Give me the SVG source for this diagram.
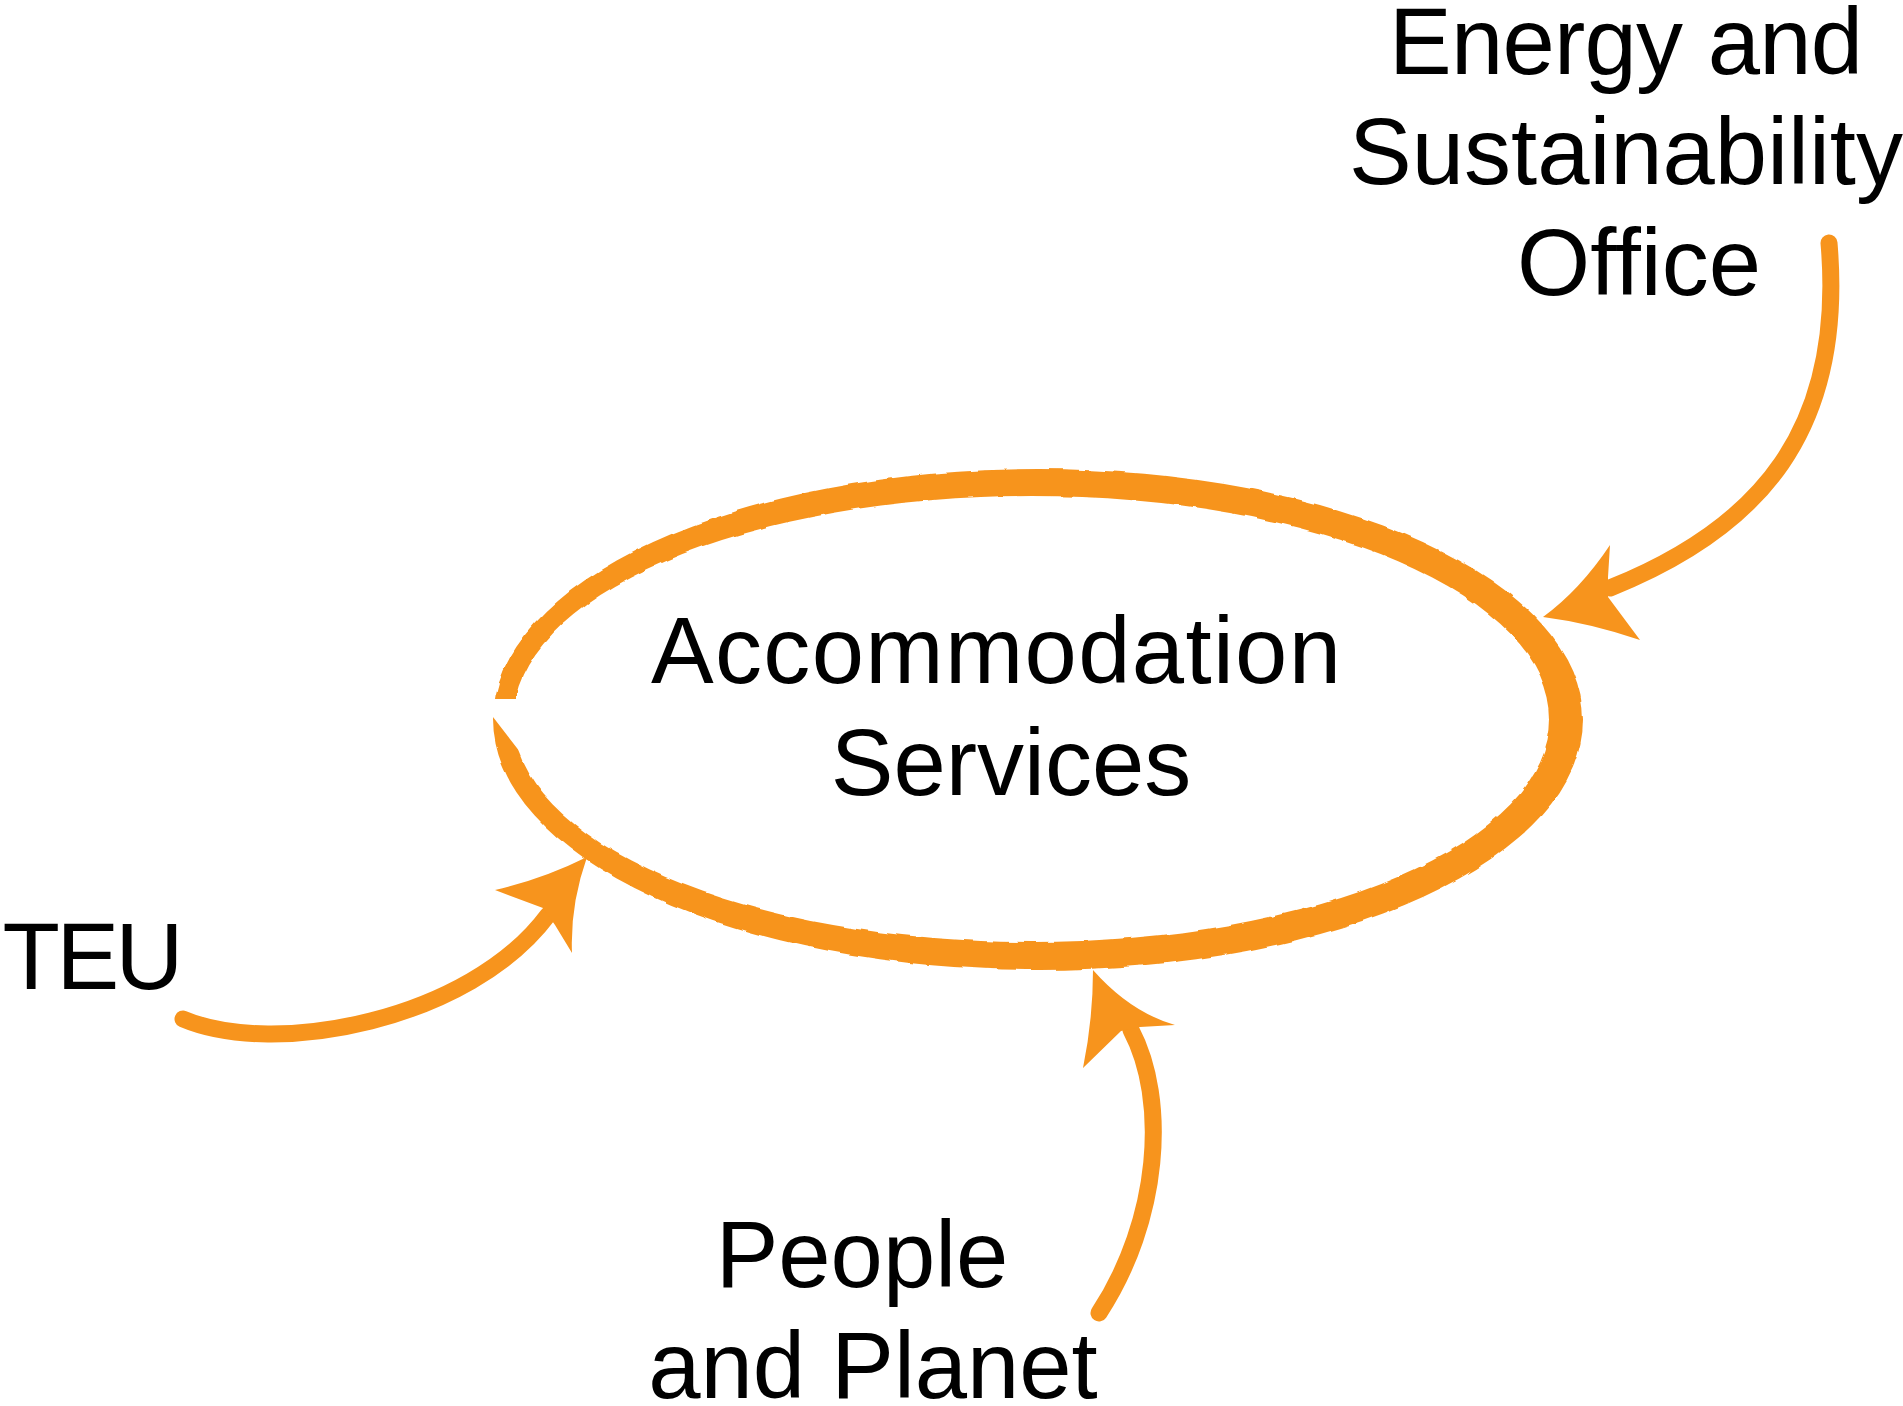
<svg xmlns="http://www.w3.org/2000/svg" width="1903" height="1406" viewBox="0 0 1903 1406">
<style>
  .lbl{font-family:"Liberation Sans",Arial,Helvetica,sans-serif;font-size:94px;fill:#000;text-anchor:middle}
  .shaft{fill:none;stroke:#F7941D;stroke-width:17;stroke-linecap:round}
  .head{fill:#F7941D;stroke:none}
  .ring{fill:#F7941D;fill-rule:evenodd}
</style>
<defs>
  <filter id="rough" x="-5%" y="-10%" width="110%" height="120%">
    <feTurbulence type="fractalNoise" baseFrequency="0.05" numOctaves="2" seed="3" result="n"/>
    <feDisplacementMap in="SourceGraphic" in2="n" scale="4" xChannelSelector="R" yChannelSelector="G"/>
  </filter>
  <mask id="gap" maskUnits="userSpaceOnUse" x="0" y="0" width="1903" height="1406">
    <rect x="0" y="0" width="1903" height="1406" fill="#fff"/>
    <polygon points="460,699 545,699 545,716 520,752 493,717 460,717" fill="#000"/>
  </mask>
</defs>
<rect x="0" y="0" width="1903" height="1406" fill="#fff"/>

<g id="node-accommodation">
  <g mask="url(#gap)">
    <path class="ring" filter="url(#rough)" d="M493,719.5 A545,250.5 0 1,0 1583,719.5 A545,250.5 0 1,0 493,719.5 Z M513,719 A518.5,223 0 1,0 1550,719 A518.5,223 0 1,0 513,719 Z"/>
  </g>
  <text class="lbl" x="996" y="683" textLength="690" lengthAdjust="spacing">Accommodation</text>
  <text class="lbl" x="1011" y="795">Services</text>
</g>

<g id="node-energy">
  <text class="lbl" x="1626" y="74" textLength="474" lengthAdjust="spacing">Energy and</text>
  <text class="lbl" x="1626" y="184">Sustainability</text>
  <text class="lbl" x="1639" y="295">Office</text>
</g>

<g id="node-teu">
  <text class="lbl" x="93" y="989" textLength="181" lengthAdjust="spacing">TEU</text>
</g>

<g id="node-people">
  <text class="lbl" x="862" y="1287">People</text>
  <text class="lbl" x="873" y="1398">and Planet</text>
</g>

<g id="connectors">
  <g id="edge-energy">
    <path class="shaft" d="M1829,243 C1845,430 1760,528 1610,588"/>
    <path class="head" d="M1543,617 Q1580,590 1610,545 L1608,577 L1608,597 L1640,640 Q1590,623 1543,617 Z"/>
  </g>
  <g id="edge-teu">
    <path class="shaft" d="M183,1019 C275,1058 470,1020 548,915"/>
    <path class="head" d="M587,857 Q543,879 495,890 L543,908 L555,925 L572,953 Q570,905 587,857 Z"/>
  </g>
  <g id="edge-people">
    <path class="shaft" d="M1099,1313 C1160,1220 1168,1100 1131,1030"/>
    <path class="head" d="M1093,970 Q1093,1019 1083,1068 L1121,1031 L1140,1027 L1175,1025 Q1130,1012 1093,970 Z"/>
  </g>
</g>
</svg>
